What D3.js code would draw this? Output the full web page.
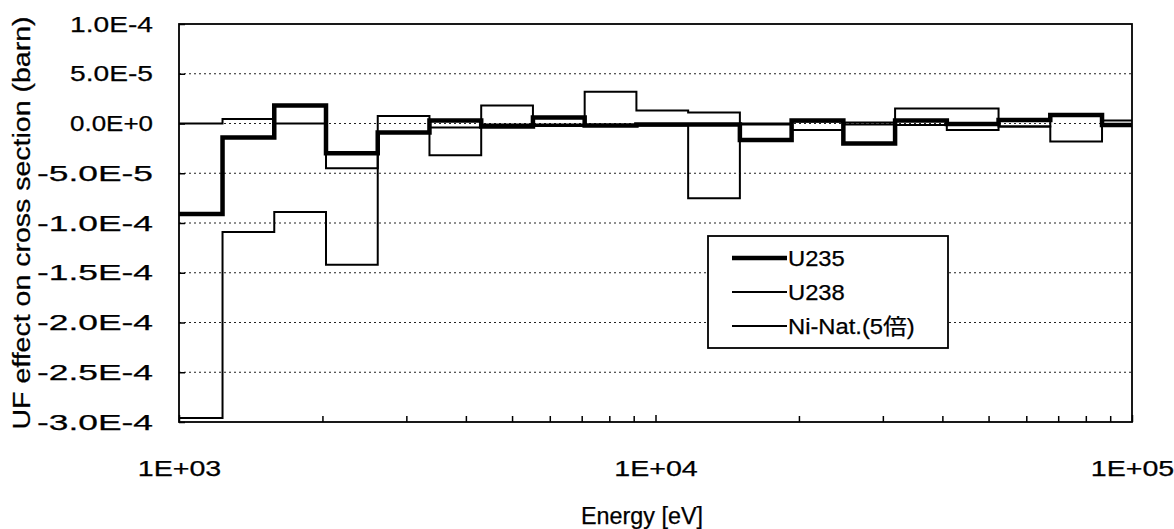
<!DOCTYPE html>
<html>
<head>
<meta charset="utf-8">
<script src="https://cdn.jsdelivr.net/npm/d3@7"></script>
<style>
  body { margin: 0; background: #fff; }
  text { font-family: "Liberation Sans", "Noto Sans CJK JP", sans-serif; fill: #000; stroke: #000; stroke-width: 0.25px; }
</style>
</head>
<body>
<svg id="chart" width="1174" height="529"></svg>
<script>
// Energy group boundaries (eV), lethargy width 0.25
const groupEdges = [961.1, 1234.1, 1584.6, 2034.7, 2612.6, 3354.6, 4307.4, 5530.8, 7101.7,
  9118.8, 11709, 15034, 19305, 24788, 31828, 40868, 52475, 67379, 86517, 111090];

// UF effect per group (barn)
const u235 = [-9.1e-5, -1.4e-5, 1.8e-5, -3.0e-5, -9e-6, 3e-6, -3e-6, 6e-6, -2e-6, -1e-6,
  -1e-6, -1.65e-5, 3e-6, -2.0e-5, 3e-6, -0.5e-6, 3.5e-6, 8.5e-6, -1.5e-6];
const u238 = [-2.96e-4, -1.09e-4, -8.9e-5, -1.42e-4, -9e-6, -3.2e-5, 1.8e-5, -1e-6, 3.2e-5, 1.3e-5,
  1.1e-5, -1e-6, -6.5e-6, 1e-6, 1.5e-5, 1.5e-5, -3e-6, -1.8e-5, 3e-6];
const niNat5 = [0, 4.5e-6, 0, -4.5e-5, 7.5e-6, -4e-6, -1e-6, -2.5e-6, -2e-6, -2e-6,
  -7.5e-5, 0, 2e-6, -1e-6, -1.5e-6, -6.5e-6, -3e-6, 8.5e-6, -1e-6];

const seriesNames = ["U235", "U238", "Ni-Nat.(5倍)"];

const yTickValues = [-3e-4, -2.5e-4, -2e-4, -1.5e-4, -1e-4, -5e-5, 0, 5e-5, 1e-4];
const yTickLabels = ["-3.0E-4", "-2.5E-4", "-2.0E-4", "-1.5E-4", "-1.0E-4", "-5.0E-5", "0.0E+0", "5.0E-5", "1.0E-4"];
const xMajorValues = [1e3, 1e4, 1e5];
const xMajorLabels = ["1E+03", "1E+04", "1E+05"];

const svg = d3.select("#chart");
const plot = { left: 179, right: 1132, top: 24, bottom: 422 };

const x = d3.scaleLog().domain([1e3, 1e5]).range([plot.left, plot.right]);
const y = d3.scaleLinear().domain([-3e-4, 1e-4]).range([plot.bottom, plot.top]);

function stretch(sel, factor) {
  sel.each(function () {
    const w = this.getComputedTextLength();
    d3.select(this).attr("textLength", w * factor).attr("lengthAdjust", "spacingAndGlyphs");
  });
}

// dotted horizontal gridlines
svg.append("g")
  .selectAll("line")
  .data(yTickValues.filter(v => v > -3e-4 && v < 1e-4))
  .join("line")
  .attr("x1", plot.left).attr("x2", plot.right)
  .attr("y1", d => y(d)).attr("y2", d => y(d))
  .attr("stroke", "#222").attr("stroke-width", 1.2)
  .attr("stroke-dasharray", "2,3");

// y axis
const yAxis = svg.append("g")
  .attr("transform", `translate(${plot.left},0)`)
  .call(d3.axisLeft(y)
    .tickValues(yTickValues)
    .tickFormat((d, i) => yTickLabels[i])
    .tickSizeInner(-6).tickSizeOuter(0).tickPadding(26));
yAxis.select(".domain").remove();
yAxis.selectAll(".tick line").attr("stroke", "#000").attr("stroke-width", 1.5);
yAxis.selectAll("text")
  .attr("font-size", 22).attr("fill", "#000")
  .attr("textLength", d => (d < 0 ? 116 : 83))
  .attr("lengthAdjust", "spacingAndGlyphs");

// x axis: minor ticks
const xMinor = [];
[1e3, 1e4].forEach(dec => { for (let k = 2; k <= 9; k++) xMinor.push(k * dec); });
const xMinorAxis = svg.append("g")
  .attr("transform", `translate(0,${plot.bottom})`)
  .call(d3.axisBottom(x).tickValues(xMinor).tickFormat("").tickSizeInner(-6).tickSizeOuter(0));
xMinorAxis.select(".domain").remove();
xMinorAxis.selectAll(".tick line").attr("stroke", "#000").attr("stroke-width", 1.5);

// x axis: major ticks + labels
const xAxis = svg.append("g")
  .attr("transform", `translate(0,${plot.bottom})`)
  .call(d3.axisBottom(x)
    .tickValues(xMajorValues)
    .tickFormat((d, i) => xMajorLabels[i])
    .tickSizeInner(-7).tickSizeOuter(0).tickPadding(38));
xAxis.select(".domain").remove();
xAxis.selectAll(".tick line").attr("stroke", "#000").attr("stroke-width", 1.5);
xAxis.selectAll("text").attr("font-size", 22).attr("fill", "#000");
stretch(xAxis.selectAll("text"), 1.3);

// clip region for the step lines
svg.append("clipPath").attr("id", "plotClip")
  .append("rect")
  .attr("x", plot.left).attr("y", plot.top)
  .attr("width", plot.right - plot.left).attr("height", plot.bottom - plot.top);

const stepLine = d3.line()
  .x(d => x(d[0]))
  .y(d => y(d[1]))
  .curve(d3.curveStepAfter);

function stepPoints(vals) {
  return groupEdges.map((e, i) => [e, vals[Math.min(i, vals.length - 1)]]);
}

const series = [
  { name: seriesNames[1], values: u238, width: 2 },
  { name: seriesNames[2], values: niNat5, width: 2 },
  { name: seriesNames[0], values: u235, width: 4.5 }
];

svg.append("g").attr("clip-path", "url(#plotClip)")
  .selectAll("path")
  .data(series)
  .join("path")
  .attr("d", d => stepLine(stepPoints(d.values)))
  .attr("fill", "none")
  .attr("stroke", "#000")
  .attr("stroke-width", d => d.width)
  .attr("stroke-linejoin", "miter");

// plot frame
svg.append("rect")
  .attr("x", plot.left).attr("y", plot.top)
  .attr("width", plot.right - plot.left).attr("height", plot.bottom - plot.top)
  .attr("fill", "none").attr("stroke", "#000").attr("stroke-width", 1.8);

// legend
const legend = svg.append("g");
legend.append("rect")
  .attr("x", 708).attr("y", 236).attr("width", 240).attr("height", 112)
  .attr("fill", "#fff").attr("stroke", "#000").attr("stroke-width", 1.8);
const legendItems = [
  { name: seriesNames[0], width: 4.5 },
  { name: seriesNames[1], width: 2 },
  { name: seriesNames[2], width: 2 }
];
const li = legend.selectAll("g.item").data(legendItems).join("g")
  .attr("class", "item")
  .attr("transform", (d, i) => `translate(0,${258 + i * 34})`);
li.append("line")
  .attr("x1", 732).attr("x2", 787)
  .attr("stroke", "#000").attr("stroke-width", d => d.width);
li.append("text")
  .attr("x", 788).attr("dy", "0.36em")
  .attr("font-size", 22)
  .text(d => d.name);
stretch(li.selectAll("text"), 1.08);

// axis titles
const yTitle = svg.append("text")
  .attr("transform", `translate(30,${(plot.top + plot.bottom) / 2}) rotate(-90)`)
  .attr("text-anchor", "middle")
  .attr("font-size", 23)
  .text("UF effect on cross section (barn)");
yTitle.attr("textLength", 413).attr("lengthAdjust", "spacingAndGlyphs");

const xTitle = svg.append("text")
  .attr("x", 642).attr("y", 524)
  .attr("text-anchor", "middle")
  .attr("font-size", 23)
  .text("Energy [eV]");
xTitle.attr("textLength", 122).attr("lengthAdjust", "spacingAndGlyphs");
</script>
</body>
</html>
